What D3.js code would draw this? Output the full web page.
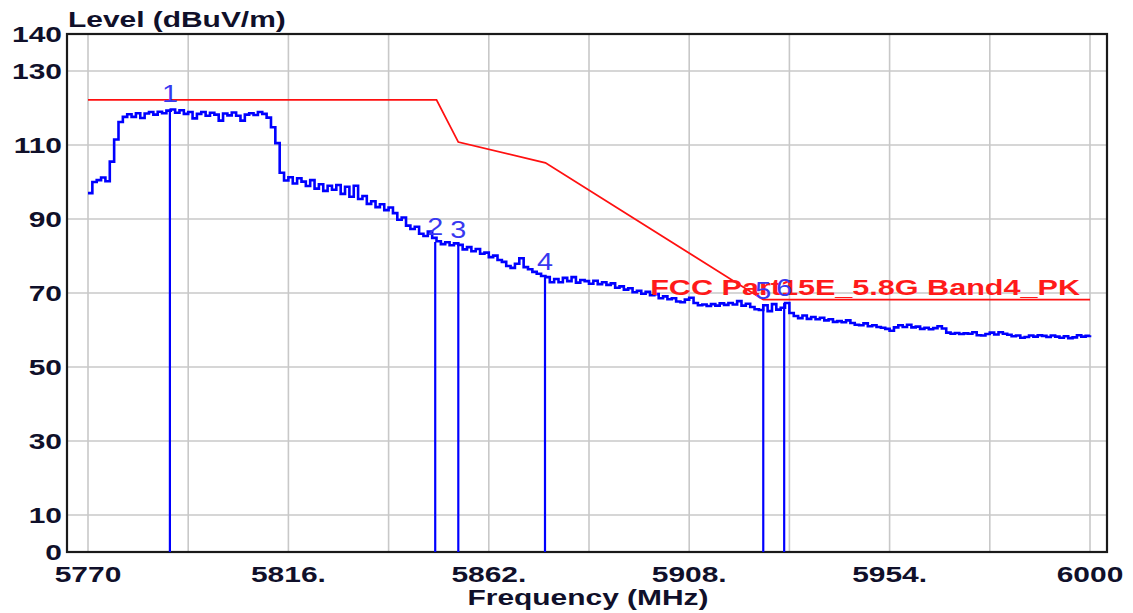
<!DOCTYPE html>
<html><head><meta charset="utf-8">
<script src="https://cdn.jsdelivr.net/npm/d3@7"></script>
<style>
body{margin:0;background:#fff;}
svg{display:block;}
text{font-family:"Liberation Sans",Arial,Helvetica,sans-serif;}
</style>
</head><body>
<svg id="chart" width="1133" height="613"></svg>
<script>
// ---------------- data ----------------
const traceStartFreq = 5770;   // MHz, first sample
const traceStepMHz = 1;        // sample spacing
const traceLevels = [
  97.0,100.0,100.5,101.2,100.2,105.5,111.5,116.2,117.6,118.3,
  117.6,118.6,117.3,118.5,118.9,118.2,119.0,118.6,119.3,119.6,
  118.7,119.4,118.4,118.9,117.2,118.4,118.9,117.9,118.7,118.2,
  116.6,118.5,118.0,118.8,117.9,116.6,118.2,118.6,118.1,118.9,
  118.4,117.4,114.8,110.5,102.5,100.4,101.3,99.6,101.0,100.1,
  98.9,100.5,98.2,99.4,97.6,99.0,97.9,99.2,96.8,98.7,
  96.0,99.0,95.4,96.2,94.1,94.8,93.2,94.0,92.4,93.1,
  91.6,89.8,90.4,88.2,87.3,87.9,86.0,85.4,86.6,84.9,
  84.0,83.2,83.7,82.9,83.4,83.0,81.8,82.4,81.3,81.9,
  80.6,80.9,79.7,80.1,78.9,78.4,77.3,76.8,77.9,79.4,
  77.0,76.4,75.7,75.2,74.6,74.3,72.9,73.8,72.9,74.1,
  73.2,74.3,72.8,73.5,73.2,72.5,73.3,72.4,72.9,72.2,
  72.6,71.4,71.8,70.9,71.3,70.2,70.6,69.8,70.3,69.4,
  69.7,68.6,69.1,68.3,68.6,67.7,67.5,68.2,68.7,67.3,
  66.7,66.9,66.5,67.0,66.6,67.2,66.8,67.3,66.9,67.8,
  66.6,67.1,66.2,65.6,65.4,66.7,65.1,67.0,65.5,66.0,
  67.3,64.6,63.8,63.2,63.9,63.0,63.5,62.9,63.3,62.6,
  62.9,62.2,62.4,62.1,62.6,61.9,61.4,61.3,61.8,61.0,
  61.3,60.8,60.6,60.3,59.8,60.7,61.3,60.8,61.4,60.7,
  60.9,60.3,60.6,60.2,60.5,61.0,60.4,59.3,59.0,59.2,
  58.9,59.1,59.0,59.4,58.6,58.5,58.9,59.3,58.8,59.4,
  59.0,58.7,58.3,58.5,57.9,58.1,58.5,58.2,58.6,58.4,
  58.1,58.5,58.2,57.9,58.3,57.8,58.0,58.6,58.2,58.4,
  58.6
];
const limitFreqs  = [5770, 5850, 5855, 5875, 5925, 6000];
const limitLevels = [122.2, 122.2, 110.8, 105.2, 68.2, 68.2];
const limitName = "FCC Part15E_5.8G Band4_PK";

const markerLabels = ["1", "2", "3", "4", "5", "6"];
const markerFreqs  = [5788.8, 5849.7, 5855.0, 5874.9, 5925.0, 5929.8];
const markerLevels = [119.6, 83.8, 82.9, 74.2, 66.6, 67.3];

const xTickValues = [5770, 5816, 5862, 5908, 5954, 6000];
const xTickLabels = ["5770", "5816.", "5862.", "5908.", "5954.", "6000"];
const xGridValues = [5770, 5793, 5816, 5839, 5862, 5885, 5908, 5931, 5954, 5977, 6000];
const yTickValues = [0, 10, 30, 50, 70, 90, 110, 130, 140];
const yGridValues = [10, 30, 50, 70, 90, 110, 130];
const yTitle = "Level (dBuV/m)";
const xTitle = "Frequency (MHz)";

// ---------------- layout ----------------
const frame = {left: 67, right: 1107, top: 34, bottom: 552};
const stretch = 1.36;      // horizontal text stretch of the original screenshot
const labelColor = "#10102a";

const svg = d3.select("#chart");
const x = d3.scaleLinear().domain([5770, 6000]).range([88, 1090]);
const y = d3.scaleLinear().domain([0, 140]).range([frame.bottom, frame.top]);

// grid
svg.append("g").selectAll("line").data(xGridValues).join("line")
  .attr("x1", d => x(d)).attr("x2", d => x(d))
  .attr("y1", frame.top).attr("y2", frame.bottom)
  .attr("stroke", "#c8c8c8").attr("stroke-width", 1.6);
svg.append("g").selectAll("line").data(yGridValues).join("line")
  .attr("x1", frame.left).attr("x2", frame.right)
  .attr("y1", d => y(d)).attr("y2", d => y(d))
  .attr("stroke", "#c8c8c8").attr("stroke-width", 1.6);

// frame
svg.append("rect")
  .attr("x", frame.left).attr("y", frame.top)
  .attr("width", frame.right - frame.left).attr("height", frame.bottom - frame.top)
  .attr("fill", "none").attr("stroke", "#1a1a1a").attr("stroke-width", 2.2);

// limit line
const limitData = limitFreqs.map((f, i) => ({f, v: limitLevels[i]}));
svg.append("path").datum(limitData)
  .attr("fill", "none").attr("stroke", "#ff1010").attr("stroke-width", 1.8)
  .attr("d", d3.line().x(d => x(d.f)).y(d => y(d.v)));

// trace
const traceData = traceLevels.map((v, i) => ({f: traceStartFreq + i * traceStepMHz, v}));
svg.append("path").datum(traceData)
  .attr("fill", "none").attr("stroke", "#0000ff").attr("stroke-width", 2.6)
  .attr("stroke-linejoin", "miter")
  .attr("d", d3.line().x(d => x(d.f)).y(d => y(d.v)).curve(d3.curveStepAfter));

// markers
const markers = markerFreqs.map((f, i) => ({f, v: markerLevels[i], label: markerLabels[i]}));
svg.append("g").selectAll("line").data(markers).join("line")
  .attr("x1", d => x(d.f)).attr("x2", d => x(d.f))
  .attr("y1", d => y(d.v)).attr("y2", y(0))
  .attr("stroke", "#0000ff").attr("stroke-width", 2.2);

// limit name
svg.append("text")
  .attr("transform", `translate(${x(6000) - 10},${y(68.2) - 5}) scale(1.39,1)`)
  .attr("text-anchor", "end").attr("font-size", 22).attr("font-weight", "bold")
  .attr("fill", "#ff1a1a").text(limitName);

// marker labels
svg.append("g").selectAll("text").data(markers).join("text")
  .attr("transform", d => `translate(${x(d.f)},${y(d.v) - 7}) scale(1.25,1)`)
  .attr("text-anchor", "middle").attr("font-size", 23)
  .attr("fill", "#3838f0").text(d => d.label);

// y tick labels
svg.append("g").selectAll("text").data(yTickValues).join("text")
  .attr("transform", d => `translate(62,${y(d) + 8}) scale(${stretch},1)`)
  .attr("text-anchor", "end").attr("font-size", 22).attr("font-weight", "bold")
  .attr("fill", labelColor).text(d => d);

// x tick labels
svg.append("g").selectAll("text").data(xTickValues).join("text")
  .attr("transform", d => `translate(${x(d)},582) scale(${stretch},1)`)
  .attr("text-anchor", "middle").attr("font-size", 22).attr("font-weight", "bold")
  .attr("fill", labelColor).text((d, i) => xTickLabels[i]);

// titles
svg.append("text")
  .attr("transform", `translate(68,27) scale(${stretch},1)`)
  .attr("font-size", 22).attr("font-weight", "bold")
  .attr("fill", labelColor).text(yTitle);
svg.append("text")
  .attr("transform", `translate(588,605) scale(${stretch},1)`)
  .attr("text-anchor", "middle").attr("font-size", 22).attr("font-weight", "bold")
  .attr("fill", labelColor).text(xTitle);
</script>
</body></html>
